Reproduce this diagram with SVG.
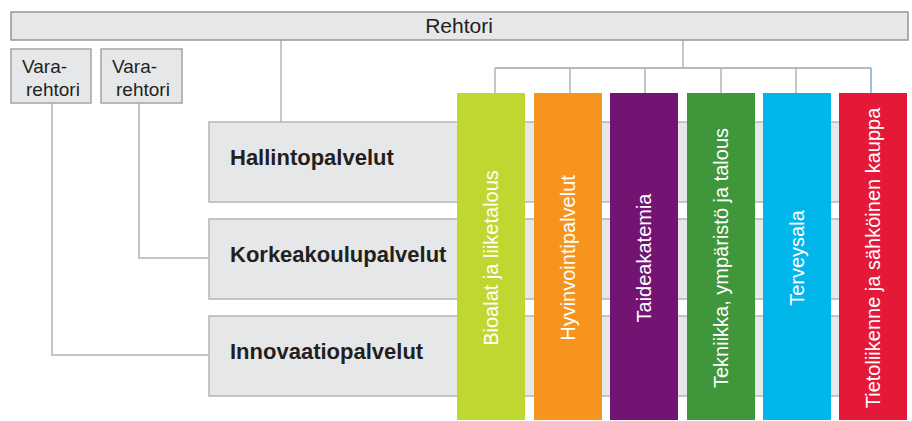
<svg xmlns="http://www.w3.org/2000/svg" width="912" height="421" viewBox="0 0 912 421">
<style>
.box{fill:#e6e7e8;stroke:#a3a4a6;stroke-width:1.5}
.top{fill:#e6e7e8;stroke:#939598;stroke-width:1.5}
.band{fill:#e6e7e8;stroke:#b5b6b8;stroke-width:1.5}
.ln{fill:none;stroke:#b3b4b6;stroke-width:1.5}
.t{font-family:"Liberation Sans",Arial,sans-serif;font-size:21px;fill:#231f20}
.v{font-family:"Liberation Sans",Arial,sans-serif;font-size:19px;fill:#231f20}
.b{font-family:"Liberation Sans",Arial,sans-serif;font-size:22px;font-weight:bold;fill:#231f20}
.c{font-family:"Liberation Sans",Arial,sans-serif;font-size:20px;fill:#ffffff;text-anchor:middle}
</style>
<rect width="912" height="421" fill="#ffffff"/>
<g id="connectors">
<path class="ln" d="M281 40 V122"/>
<path class="ln" d="M52 103 V355 H209"/>
<path class="ln" d="M139 103 V258 H209"/>
<path class="ln" d="M683 40 V68"/>
<path class="ln" style="stroke:#a3a4a6" d="M495 68 H871"/>
<path class="ln" d="M495 68 V93 M570 68 V93 M645 68 V93 M721 68 V93 M796 68 V93"/>
<path class="ln" style="stroke:#7fa6d2" d="M871 68 V93"/>
</g>
<g id="rehtori">
<rect class="top" x="11" y="12" width="897" height="28"/>
<text class="t" x="459" y="33" text-anchor="middle">Rehtori</text>
</g>
<g id="vararehtori1">
<rect class="box" x="11" y="49" width="80" height="54"/>
<text class="v" x="22" y="73">Vara-</text>
<text class="v" x="26" y="96">rehtori</text>
</g>
<g id="vararehtori2">
<rect class="box" x="101" y="49" width="81" height="54"/>
<text class="v" x="112" y="73">Vara-</text>
<text class="v" x="116" y="96">rehtori</text>
</g>
<g id="hallintopalvelut">
<rect class="band" x="209" y="122" width="693" height="80"/>
<text class="b" x="230" y="165">Hallintopalvelut</text>
</g>
<g id="korkeakoulupalvelut">
<rect class="band" x="209" y="219" width="693" height="80"/>
<text class="b" x="230" y="262">Korkeakoulupalvelut</text>
</g>
<g id="innovaatiopalvelut">
<rect class="band" x="209" y="316" width="693" height="80"/>
<text class="b" x="230" y="359">Innovaatiopalvelut</text>
</g>
<g id="bioalat">
<rect x="457" y="93" width="68" height="327" fill="#c0d731"/>
<text class="c" transform="translate(498,258) rotate(-90)">Bioalat ja liiketalous</text>
</g>
<g id="hyvinvointipalvelut">
<rect x="534" y="93" width="68" height="327" fill="#f7941d"/>
<text class="c" transform="translate(575,258) rotate(-90)">Hyvinvointipalvelut</text>
</g>
<g id="taideakatemia">
<rect x="610" y="93" width="68" height="327" fill="#741472"/>
<text class="c" transform="translate(651,258) rotate(-90)">Taideakatemia</text>
</g>
<g id="tekniikka">
<rect x="687" y="93" width="68" height="327" fill="#40963a"/>
<text class="c" transform="translate(728,258) rotate(-90)">Tekniikka, ympäristö ja talous</text>
</g>
<g id="terveysala">
<rect x="763" y="93" width="68" height="327" fill="#00b6ea"/>
<text class="c" transform="translate(804,258) rotate(-90)">Terveysala</text>
</g>
<g id="tietoliikenne">
<rect x="839" y="93" width="68" height="327" fill="#e51937"/>
<text class="c" transform="translate(880,258) rotate(-90)">Tietoliikenne ja sähköinen kauppa</text>
</g>
</svg>
